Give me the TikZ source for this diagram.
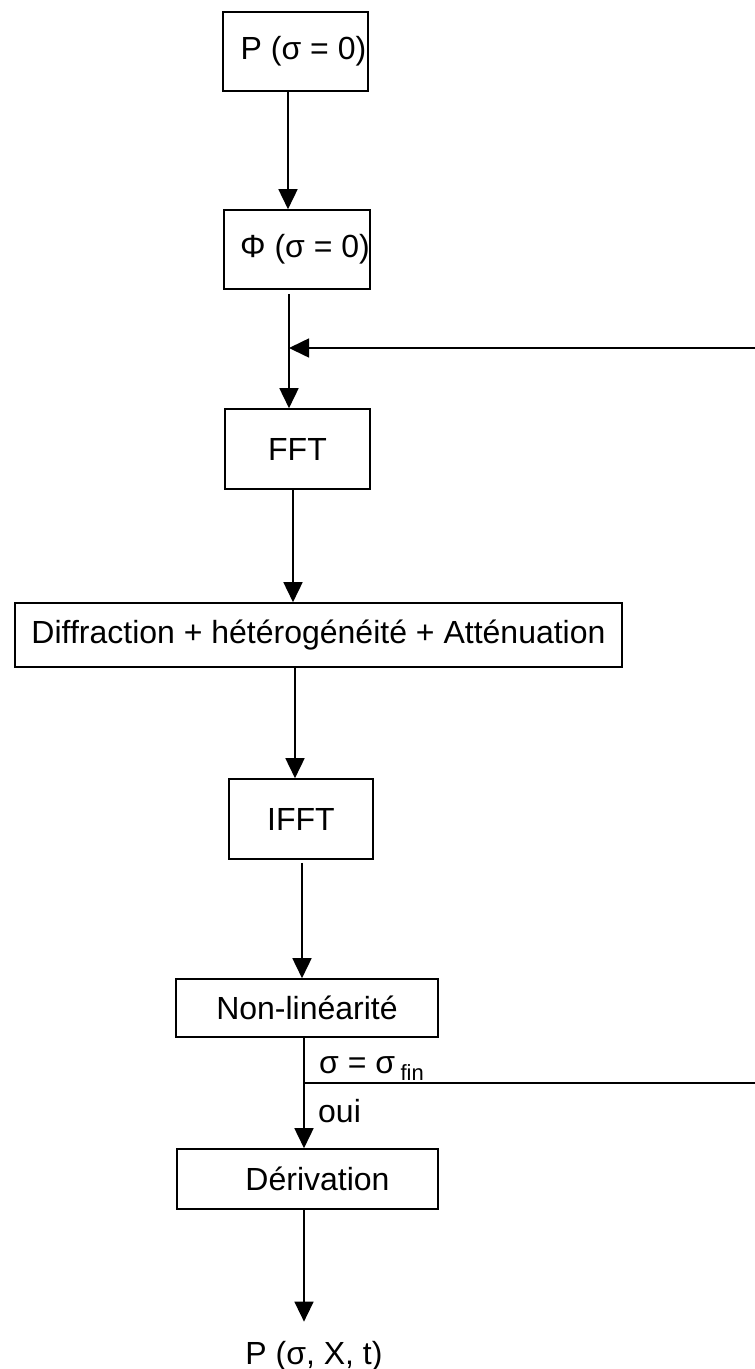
\documentclass[tikz,border=0pt]{standalone}
\usepackage{fontspec}
\setmainfont{Liberation Sans}
\usetikzlibrary{arrows.meta}
\tikzset{
  box/.style={draw, line width=1.6pt, inner sep=0pt, minimum height=80, font=\fontsize{32}{37}\selectfont},
  flow/.style={line width=1.6pt, -{Triangle[length=20pt,width=19pt]}},
  lbl/.style={inner sep=0pt, font=\fontsize{32}{37}\selectfont},
}

\begin{document}
\begin{tikzpicture}[x=1pt, y=-1pt] % main loop of the solver
\useasboundingbox (0,0) rectangle (755,1369);

\node[box, minimum width=145, minimum height=79] (p0) at (295.5,51.5) {\hspace{16pt}P (σ = 0)};
\node[box, minimum width=146, minimum height=79] (phi0) at (297,249.5) {\hspace{16pt}Φ (σ = 0)};
\node[box, minimum width=145] (fft) at (297.5,449) {FFT};
\node[box, minimum width=607, minimum height=64] (diff) at (318.5,635) {Diffraction + hétérogénéité + Atténuation};
\node[box, minimum width=144] (ifft) at (301,819) {IFFT};
\node[box, minimum width=262, minimum height=58] (nonlin) at (307,1008) {Non-linéarité};
\node[box, minimum width=261, minimum height=60] (deriv) at (307.5,1179) {\hspace{20pt}Dérivation};
\node[lbl, anchor=base] (out) at (314,1364) {P (σ, X, t)};

\coordinate (ret) at (755,348);
\coordinate (brk) at (755,1083);

\draw[flow] ([xshift=-7.5]p0.south) -- ([xshift=-7.5]p0.south |- phi0.north);
\draw[flow, shorten <=4pt] ([xshift=-8]phi0.south) -- ([xshift=-8]phi0.south |- fft.north);
\draw[flow] ([xshift=-4.5]fft.south) -- ([xshift=-4.5]fft.south |- diff.north);
\draw[flow] ([xshift=-23.5]diff.south) -- ([xshift=-23.5]diff.south |- ifft.north);
\draw[flow, shorten <=3pt] ([xshift=1]ifft.south) -- ([xshift=1]ifft.south |- nonlin.north);
\draw[flow] ([xshift=-3]nonlin.south) -- ([xshift=-3]nonlin.south |- deriv.north);
\draw[flow, shorten >=19pt] ([xshift=-3.5]deriv.south) -- ([xshift=-3.5]deriv.south |- out.north);

% back to the next step
\draw[flow] (ret) -- ([xshift=-8]phi0.south |- ret);
\draw[line width=1.6pt] ([xshift=-3]nonlin.south |- brk) -- (brk);

\node[lbl, anchor=base west] (cond) at (319,1073) {σ = σ\,\raisebox{-7pt}{\fontsize{22}{22}\selectfont fin}};
\node[lbl, anchor=base west] (yes) at (318,1122) {oui};
\end{tikzpicture}
\end{document}
